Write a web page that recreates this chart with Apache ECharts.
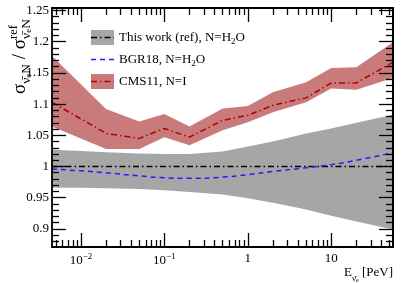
<!DOCTYPE html>
<html><head><meta charset="utf-8">
<script src="https://cdn.jsdelivr.net/npm/echarts@6/dist/echarts.min.js"></script>
<style>html,body{margin:0;padding:0;background:#fff}#c{width:415px;height:283px}</style>
</head><body><div id="c"></div>
<script>
// ---- data ----
const energies = [0.0045, 0.01, 0.02, 0.05, 0.1, 0.2, 0.5, 1, 2, 5, 10, 20, 55];
const refCentral = [1, 1, 1, 1, 1, 1, 1, 1, 1, 1, 1, 1, 1];
const refHigh = [1.027, 1.025, 1.023, 1.021, 1.020, 1.020, 1.024, 1.032, 1.040, 1.053, 1.061, 1.070, 1.083];
const refLow  = [0.966, 0.966, 0.965, 0.964, 0.962, 0.959, 0.955, 0.949, 0.942, 0.931, 0.921, 0.912, 0.899];
const bgr18   = [0.996, 0.993, 0.990, 0.985, 0.982, 0.981, 0.983, 0.987, 0.992, 0.998, 1.003, 1.010, 1.022];
const cmsEnergies = [0.0045, 0.02, 0.05, 0.1, 0.2, 0.5, 1, 2, 5, 10, 20, 55];
const cmsCentral = [1.103, 1.053, 1.045, 1.061, 1.047, 1.074, 1.082, 1.098, 1.110, 1.134, 1.134, 1.167];
const cmsHigh    = [1.177, 1.092, 1.072, 1.084, 1.064, 1.093, 1.097, 1.119, 1.135, 1.158, 1.159, 1.199];
const cmsLow     = [1.064, 1.028, 1.028, 1.047, 1.034, 1.058, 1.071, 1.087, 1.103, 1.125, 1.123, 1.142];
const seriesNames = ['This work (ref), N=H2O', 'BGR18, N=H2O', 'CMS11, N=I'];
const xMajorTicks = [0.01, 0.1, 1, 10];
const xMinorTicks = [0.005, 0.006, 0.007, 0.008, 0.009, 0.02, 0.03, 0.04, 0.05, 0.06, 0.07, 0.08, 0.09,
  0.2, 0.3, 0.4, 0.5, 0.6, 0.7, 0.8, 0.9, 2, 3, 4, 5, 6, 7, 8, 9, 20, 30, 40, 50];
const yMajorTicks = [0.9, 0.95, 1, 1.05, 1.1, 1.15, 1.2, 1.25];
const yMinorTicks = [0.88, 0.89, 0.91, 0.92, 0.93, 0.94, 0.96, 0.97, 0.98, 0.99, 1.01, 1.02, 1.03, 1.04,
  1.06, 1.07, 1.08, 1.09, 1.11, 1.12, 1.13, 1.14, 1.16, 1.17, 1.18, 1.19, 1.21, 1.22, 1.23, 1.24];
const yTitle = '\u03C3{sub|\u03BD\u0304}{subsub|e}{sub|N} / \u03C3{sup|ref}{sub|\u03BD\u0304}{subsub|e}{sub|N}';
const xTitle = 'E{sub|\u03BD\u0304}{subsub|e} [PeV]';

// ---- styling ----
const FONT = 'Liberation Serif';
const GRAY = '#a6a6a6', RED_BAND = '#c97b7b', RED_LINE = '#b00000', BLUE = '#1f1fff';
const X_MIN = 0.0045, X_MAX = 55, Y_MIN = 0.871, Y_MAX = 1.254;
const DASHDOT = [6, 3, 1.5, 3];

function svgIcon(fill, stroke, dash) {
  const s = '<svg xmlns="http://www.w3.org/2000/svg" width="23" height="15" viewBox="0 0 23 15">' +
    (fill ? '<rect x="0" y="0" width="23" height="15" fill="' + fill + '"/>' : '') +
    '<line x1="0" y1="7.5" x2="23" y2="7.5" stroke="' + stroke + '" stroke-width="1.5" stroke-dasharray="' + dash + '"/></svg>';
  return 'image://data:image/svg+xml;charset=utf-8,' + encodeURIComponent(s);
}

function xAxisDef(pos, ticks, len, main) {
  return {
    type: 'log', logBase: 10, min: X_MIN, max: X_MAX, position: pos, z: 10,
    axisLine: { show: !!main || pos === 'top', onZero: false, lineStyle: { color: '#000', width: 1.8 } },
    axisTick: { show: true, inside: true, length: len, customValues: ticks, lineStyle: { color: '#000', width: 1.3 } },
    axisLabel: main ? {
      show: true, customValues: xMajorTicks, margin: 5, color: '#000', fontFamily: FONT, fontSize: 13,
      formatter: v => { const k = Math.round(Math.log10(v)); return k < 0 ? '10{sup|\u2212' + (-k) + '}' : String(Math.pow(10, k)); },
      rich: { sup: { fontFamily: FONT, fontSize: 9, verticalAlign: 'top', lineHeight: 18 } }
    } : { show: false },
    splitLine: { show: false },
    name: main ? xTitle : '',
    nameLocation: 'end', nameGap: 0, nameMoveOverlap: false,
    nameTextStyle: {
      align: 'right', verticalAlign: 'top', padding: [16, 0, 0, 0], color: '#000', fontFamily: FONT, fontSize: 13,
      rich: {
        sub: { fontFamily: FONT, fontSize: 9, verticalAlign: 'bottom', lineHeight: 20 },
        subsub: { fontFamily: FONT, fontSize: 6, verticalAlign: 'bottom', lineHeight: 18 }
      }
    }
  };
}
function yAxisDef(pos, ticks, len, main) {
  return {
    type: 'value', min: Y_MIN, max: Y_MAX, position: pos, z: 10,
    axisLine: { show: !!main || pos === 'right', onZero: false, lineStyle: { color: '#000', width: 1.8 } },
    axisTick: { show: true, inside: true, length: len, customValues: ticks, lineStyle: { color: '#000', width: 1.3 } },
    axisLabel: main ? {
      show: true, customValues: yMajorTicks, margin: 3, color: '#000', fontFamily: FONT, fontSize: 13,
      formatter: v => String(+v.toFixed(2))
    } : { show: false },
    splitLine: { show: false }
  };
}

function bandSeries(name, xs, lo, hi, color) {
  return {
    type: 'custom', name: name, xAxisIndex: 0, yAxisIndex: 0, z: 1, silent: true,
    data: xs.map((x, i) => [x, lo[i], hi[i]]),
    encode: { x: 0, y: [1, 2] },
    renderItem: (params, api) => {
      if (params.dataIndex !== 0) return null;
      const pts = [];
      for (let i = 0; i < xs.length; i++) pts.push(api.coord([xs[i], hi[i]]));
      for (let i = xs.length - 1; i >= 0; i--) pts.push(api.coord([xs[i], lo[i]]));
      return { type: 'polygon', shape: { points: pts }, style: { fill: color } };
    }
  };
}
function lineSeries(name, xs, ys, color, dash, smooth) {
  return {
    type: 'line', name: name, xAxisIndex: 0, yAxisIndex: 0, z: 3, silent: true,
    data: xs.map((x, i) => [x, ys[i]]), symbol: 'none', showSymbol: false, smooth: smooth,
    lineStyle: { color: color, width: 1.5, type: dash }
  };
}

const chart = echarts.init(document.getElementById('c'), null, { renderer: 'canvas' });
chart.setOption({
  animation: false,
  backgroundColor: '#fff',
  textStyle: { fontFamily: FONT },
  grid: { left: 52, right: 22, top: 8, bottom: 36, outerBoundsMode: 'none', containLabel: false },
  xAxis: [
    xAxisDef('bottom', xMajorTicks, 14, true),
    xAxisDef('bottom', xMinorTicks, 7, false),
    xAxisDef('top', xMajorTicks, 14, false),
    xAxisDef('top', xMinorTicks, 7, false)
  ],
  yAxis: [
    yAxisDef('left', yMajorTicks, 14, true),
    yAxisDef('left', yMinorTicks, 7, false),
    yAxisDef('right', yMajorTicks, 14, false),
    yAxisDef('right', yMinorTicks, 7, false)
  ],
  graphic: [{
    type: 'text', x: 33, y: 94, rotation: Math.PI / 2, z: 20, silent: true,
    style: {
      text: yTitle, fill: '#000', fontFamily: FONT, fontSize: 19, align: 'left', verticalAlign: 'bottom',
      rich: {
        sub: { fontFamily: FONT, fontSize: 13.5, verticalAlign: 'bottom', lineHeight: 26, fill: '#000' },
        subsub: { fontFamily: FONT, fontSize: 9, verticalAlign: 'bottom', lineHeight: 22, fill: '#000' },
        sup: { fontFamily: FONT, fontSize: 12.5, verticalAlign: 'top', lineHeight: 26, width: 0, fill: '#000' }
      }
    }
  }],
  legend: {
    left: 86, top: 25, orient: 'vertical', itemWidth: 23, itemHeight: 15, itemGap: 5.5, selectedMode: false,
    data: [
      { name: seriesNames[0], icon: svgIcon(GRAY, '#000', '6 3 1.5 3') },
      { name: seriesNames[1], icon: svgIcon(null, BLUE, '5 4') },
      { name: seriesNames[2], icon: svgIcon(RED_BAND, RED_LINE, '6 3 1.5 3') }
    ],
    formatter: n => n.replace('H2O', 'H{sub|2}O'),
    textStyle: {
      color: '#000', fontFamily: FONT, fontSize: 13,
      rich: { sub: { fontFamily: FONT, fontSize: 9, verticalAlign: 'bottom', lineHeight: 18 } }
    }
  },
  series: [
    bandSeries(seriesNames[0], energies, refLow, refHigh, GRAY),
    bandSeries(seriesNames[2], cmsEnergies, cmsLow, cmsHigh, RED_BAND),
    lineSeries(seriesNames[0], energies, refCentral, '#000', DASHDOT, false),
    lineSeries(seriesNames[1], energies, bgr18, BLUE, [5, 4], true),
    lineSeries(seriesNames[2], cmsEnergies, cmsCentral, RED_LINE, DASHDOT, false)
  ]
});
</script></body></html>
